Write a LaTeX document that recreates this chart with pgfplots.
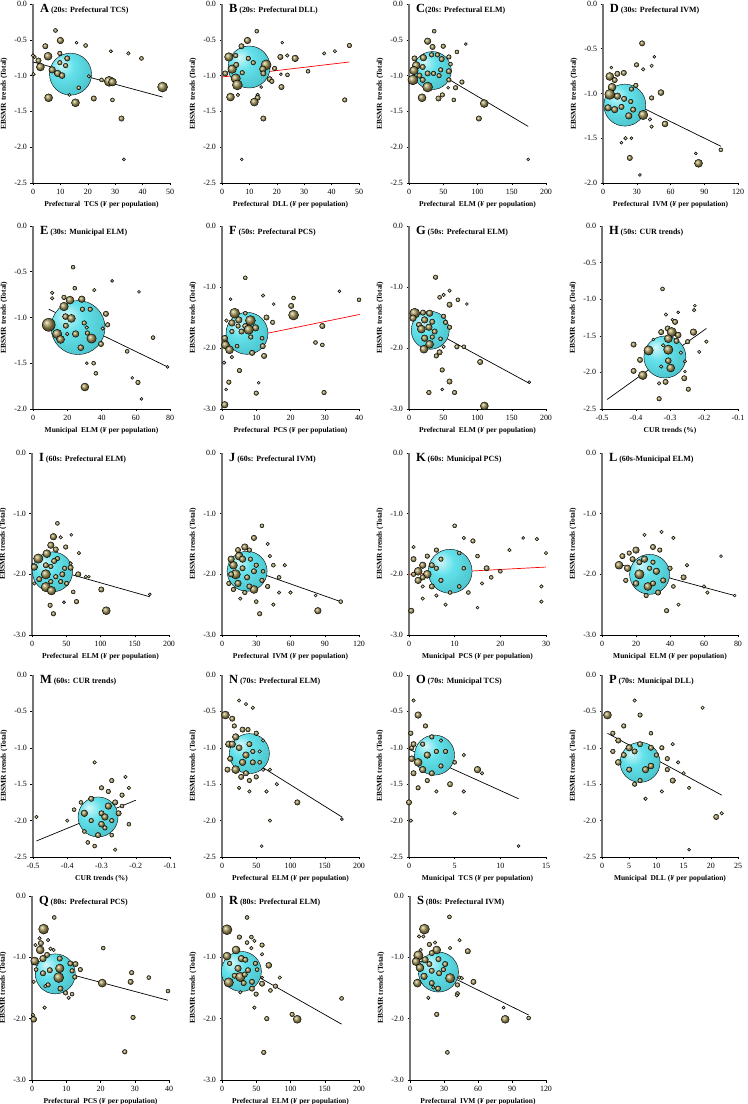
\documentclass[border=0pt]{standalone}
\usepackage{pgfplots}
\pgfplotsset{compat=1.18}
\usepackage{fontspec}
\setmainfont{Liberation Serif}
\definecolor{olv}{RGB}{160,146,82}
\definecolor{cyn}{RGB}{85,222,232}
\pgfdeclareradialshading{cyball}{\pgfpoint{-12bp}{12bp}}{color(0bp)=(cyn!25!white); color(14bp)=(cyn!92!white); color(34bp)=(cyn!88!black); color(55bp)=(cyn!62!black); color(70bp)=(cyn!55!black)}
\pgfdeclareplotmark{nothing}{}
\pgfplotsset{
  pan/.style={scale only axis, width=137bp, anchor=south west, clip=false,
    axis lines*=left,
    x axis line style={line width=0.6pt, black},
    y axis line style={line width=1.2pt, black!55},
    tick align=outside, major tick length=2.5bp, tick style={line width=0.5pt, black},
    ticklabel style={font=\fontsize{8}{9}\selectfont},
    yticklabel style={/pgf/number format/.cd, fixed, fixed zerofill, precision=1},
    label style={font=\bfseries\fontsize{7.5}{9}\selectfont},
    ylabel={EBSMR trends (Total)},
    /pgf/number format/assume math mode=true,
  },
  olb/.style={only marks, scatter, mark=nothing,
    visualization depends on={\thisrow{r} \as \rr},
    scatter/@pre marker code/.code={\shade[ball color=olv] (0pt,0pt) circle[radius=\rr bp];},
    scatter/@post marker code/.code={}},
  cyb/.style={olb, scatter/@pre marker code/.code={\shade[shading=cyball] (0pt,0pt) circle[radius=\rr bp];}},
  rl/.style={black, line width=0.7pt, no marks},
  rr/.style={red, line width=0.7pt, no marks},
}
\newcommand{\ttl}[2]{\node[anchor=north west, inner sep=0pt, font=\bfseries] at (rel axis cs:0.05,1.0) {\fontsize{12.5}{12}\selectfont #1\fontsize{8}{9}\selectfont #2};}
\begin{document}
\begin{tikzpicture}
\useasboundingbox (0,0) rectangle (748bp,1104bp);
% ---------------- A
\begin{axis}[pan, at={(33bp,921bp)}, height=179bp, xmin=0, xmax=50, xtick={0,10,...,50}, ymin=-2.5, ymax=0, ytick={-2.5,-2,...,0},
 xlabel={Prefectural\ \ TCS (\textit{¥} per population)}]
\addplot[cyb] table[row sep=\\] {x y r\\ 13.7 -0.98 21\\};
\addplot[olb] table[row sep=\\] {x y r\\
8.2 -0.37 2\\ 10 -0.51 3.3\\ 15.9 -0.54 1.5\\ 19.2 -0.58 2\\ 4.5 -0.59 2.7\\ 28.4 -0.66 1.7\\ 34.8 -0.69 1.8\\ 39.6 -0.76 2\\
5.5 -0.73 4\\ 9.8 -0.69 2.3\\ 12.5 -0.76 2.7\\ 0.6 -0.74 1.8\\ 2 -0.79 2.7\\ 9.8 -0.82 2.3\\ 2.7 -0.88 4\\ 7 -0.92 3.3\\
9 -0.97 3.3\\ 10.6 -1.0 3\\ 11.9 -0.86 2.3\\ 0.2 -0.98 1.8\\ 0 -0.72 1.8\\ 20.4 -1.01 1.8\\ 16.7 -1.17 2\\ 25 -1.06 2\\
27.8 -1.08 5\\ 29 -1.09 4\\ 47.3 -1.16 5\\ 5.7 -1.31 4\\ 13.3 -1.27 1.6\\ 15.5 -1.38 4\\ 22.2 -1.32 2.7\\ 29 -1.34 2\\
32.3 -1.6 2.7\\ 33.2 -2.17 1.6\\};
\addplot[rl] coordinates {(0,-0.81) (47.3,-1.30)};
\ttl{A}{ (20s: Prefectural TCS)}
\end{axis}
% ---------------- B
\begin{axis}[pan, at={(222bp,921bp)}, height=179bp, xmin=0, xmax=50, xtick={0,10,...,50}, ymin=-2.5, ymax=0, ytick={-2.5,-2,...,0},
 xlabel={Prefectural\ \ DLL (\textit{¥} per population)}]
\addplot[cyb] table[row sep=\\] {x y r\\ 9.9 -0.88 21\\};
\addplot[olb] table[row sep=\\] {x y r\\
12.7 -0.38 2\\ 9.3 -0.51 3.3\\ 22 -0.54 1.5\\ 46.5 -0.58 2.3\\ 7.1 -0.59 2.7\\ 41.2 -0.66 1.8\\ 37.3 -0.69 1.8\\ 23.8 -0.72 1.8\\
21.3 -0.74 2.7\\ 26.7 -0.76 3.3\\ 2.5 -0.74 4.3\\ 5 -0.72 2.3\\ 9.6 -0.76 2.3\\ 11.4 -0.82 2.3\\ 3.7 -0.91 4.3\\ 5.2 -0.85 2.7\\
16.1 -0.85 5\\ 14.9 -0.91 3.3\\ 19.2 -0.9 2.3\\ 1.2 -0.97 2.7\\ 7.4 -0.96 2.3\\ 15.1 -0.97 2.7\\ 21.5 -0.98 1.5\\ 23.9 -0.99 2\\
31.4 -0.94 2\\ 5 -1.04 4.7\\ 5.6 -1.13 5\\ 17.4 -1.05 2.7\\ 18.2 -1.08 2.3\\ 14.3 -1.16 1.5\\ 21.7 -1.16 2.7\\ 3.1 -1.3 4\\
5.8 -1.27 1.8\\ 13 -1.27 1.8\\ 13 -1.31 2.7\\ 11.8 -1.37 4\\ 44.8 -1.34 2.3\\ 15.1 -1.6 2.7\\ 7.2 -2.17 1.5\\};
\addplot[rr] coordinates {(0,-1.02) (46.5,-0.81)};
\ttl{B}{ (20s: Prefectural DLL)}
\end{axis}
% ---------------- C
\begin{axis}[pan, at={(409bp,921bp)}, height=179bp, xmin=0, xmax=200, xtick={0,50,...,200}, ymin=-2.5, ymax=0, ytick={-2.5,-2,...,0},
 xlabel={Prefectural\ \ ELM (\textit{¥} per population)}]
\addplot[cyb] table[row sep=\\] {x y r\\ 34 -0.93 19\\};
\addplot[olb] table[row sep=\\] {x y r\\
36.8 -0.38 2\\ 27.2 -0.52 3.3\\ 83 -0.56 1.5\\ 50 -0.59 2.3\\ 34.4 -0.6 2.7\\ 70 -0.67 2\\ 41.5 -0.71 2.3\\ 33 -0.71 2.3\\
21 -0.75 3.3\\ 47.7 -0.77 2.7\\ 58.2 -0.74 2.3\\ 8.1 -0.76 2.7\\ 60.6 -0.84 2\\ 10.5 -0.86 4\\ 7.2 -0.93 4.3\\ 20 -0.88 2.7\\
46.3 -0.92 2.3\\ 58.2 -0.94 2.7\\ 27.2 -0.97 2.7\\ 35.8 -0.97 2.3\\ 43.9 -1.0 2.3\\ 15.3 -1.0 2.7\\ 5.7 -1.06 5\\ 20 -1.06 2.7\\
58.2 -1.06 2.3\\ 77.3 -1.09 2.3\\ 27.2 -1.16 5\\ 57 -1.17 1.5\\ 68 -1.17 2.3\\ 19 -1.31 4\\ 48.7 -1.27 2.3\\ 43 -1.32 2.7\\
65.4 -1.34 2\\ 109.8 -1.39 4\\ 102 -1.6 2.7\\ 174 -2.17 1.5\\};
\addplot[rl] coordinates {(4.8,-0.75) (174,-1.71)};
\ttl{C}{(20s: Prefectural ELM)}
\end{axis}
% ---------------- D
\begin{axis}[pan, at={(603bp,921bp)}, width=135bp, height=179bp, xmin=0, xmax=120, xtick={0,30,...,120}, ymin=-2, ymax=0, ytick={-2,-1.5,...,0},
 xlabel={Prefectural\ \ IVM (\textit{¥} per population)}]
\addplot[cyb] table[row sep=\\] {x y r\\ 19.4 -1.13 21\\};
\addplot[olb] table[row sep=\\] {x y r\\
34.8 -0.44 2.7\\ 45.6 -0.59 1.5\\ 7.4 -0.71 1.5\\ 29.8 -0.68 2.3\\ 35.7 -0.73 1.8\\ 43.2 -0.69 1.8\\ 6 -0.81 4\\ 12.8 -0.78 2.7\\
18.5 -0.77 2.7\\ 10.4 -0.85 2.7\\ 8 -0.93 4\\ 25.3 -0.95 2.3\\ 29.2 -0.91 2.3\\ 51.5 -0.99 3\\ 6 -1.01 5\\ 12.8 -1.03 3.3\\
18.8 -1.06 2.7\\ 43.2 -1.05 2.3\\ 24.7 -1.09 2.3\\ 4.5 -1.16 3.3\\ 10.4 -1.18 3.3\\ 16.4 -1.15 2.7\\ 26.8 -1.18 2.7\\ 35.7 -1.24 4.7\\
22.9 -1.25 3.3\\ 41.7 -1.29 1.8\\ 43.2 -1.37 1.8\\ 55.1 -1.34 3\\ 20 -1.5 1.8\\ 25.3 -1.5 1.5\\ 16.4 -1.55 1.5\\ 23.8 -1.72 2.7\\
32.8 -1.91 1.5\\ 82.5 -1.67 1.5\\ 84.9 -1.78 4\\ 104.8 -1.63 2\\};
\addplot[rl] coordinates {(6,-0.98) (104.8,-1.59)};
\ttl{D}{ (30s: Prefectural IVM)}
\end{axis}
% ---------------- E
\begin{axis}[pan, at={(33bp,695bp)}, height=183bp, xmin=0, xmax=80, xtick={0,20,...,80}, ymin=-2, ymax=0, ytick={-2,-1.5,...,0},
 xlabel={Municipal\ \ ELM (\textit{¥} per population)}]
\addplot[cyb] table[row sep=\\] {x y r\\ 26.3 -1.11 27\\};
\addplot[olb] table[row sep=\\] {x y r\\
23.4 -0.45 2\\ 46.2 -0.6 1.5\\ 24.4 -0.68 2\\ 35.8 -0.7 1.8\\ 61.9 -0.72 1.5\\ 11.2 -0.73 1.8\\ 11.2 -0.79 1.8\\ 18.1 -0.78 2.3\\
21.6 -0.81 4\\ 28.5 -0.8 3.3\\ 33.4 -0.91 2.3\\ 18.1 -0.88 4.3\\ 28.9 -0.91 2.3\\ 42.6 -0.96 2.7\\ 19 -0.99 3\\ 9.2 -1.08 6.5\\
22.4 -1.01 4\\ 29.9 -1.06 2.3\\ 43.6 -1.08 2.3\\ 40.7 -1.12 1.8\\ 31.4 -1.11 1.8\\ 19.2 -1.09 2.7\\ 14.1 -1.18 4.7\\ 24.9 -1.18 3.3\\
20 -1.18 1.8\\ 31.8 -1.17 2.3\\ 34.2 -1.23 4.7\\ 16.1 -1.24 4\\ 70.1 -1.22 2\\ 27.9 -1.33 3\\ 39.7 -1.29 2.7\\ 55 -1.37 2\\
31.4 -1.5 1.5\\ 35.4 -1.5 2\\ 36.7 -1.61 2\\ 78.6 -1.54 1.5\\ 58 -1.66 1.5\\ 61.3 -1.71 2.3\\ 30.3 -1.76 4\\ 63.3 -1.89 1.5\\};
\addplot[rl] coordinates {(9.2,-0.91) (78.6,-1.54)};
\ttl{E}{ (30s: Municipal ELM)}
\end{axis}
% ---------------- F
\begin{axis}[pan, at={(222bp,695bp)}, height=183bp, xmin=0, xmax=40, xtick={0,10,...,40}, ymin=-3, ymax=0, ytick={-3,-2,-1,0},
 xlabel={Prefectural\ \ PCS (\textit{¥} per population)}]
\addplot[cyb] table[row sep=\\] {x y r\\ 7.3 -1.76 21\\};
\addplot[olb] table[row sep=\\] {x y r\\
6.8 -0.85 2\\ 40 -1.21 2\\ 34.3 -1.07 1.5\\ 12 -1.14 1.8\\ 2.5 -1.2 1.5\\ 20.9 -1.18 2\\ 15.1 -1.28 1.5\\ 20.2 -1.31 2.7\\
6.8 -1.43 2\\ 3.7 -1.43 5\\ 20.9 -1.46 5\\ 13 -1.5 2.7\\ 4.9 -1.54 3.3\\ 1.3 -1.55 1.8\\ 2.9 -1.59 3.3\\ 14.8 -1.58 2.3\\
8.3 -1.55 5\\ 4.7 -1.64 2.3\\ 6.8 -1.64 2.7\\ 9.8 -1.67 3.3\\ 7.8 -1.7 4.7\\ 5.7 -1.73 2.7\\ 2.9 -1.73 2.3\\ 29.3 -1.64 2.7\\
8.4 -1.82 2.3\\ 0.8 -1.84 3\\ 11.7 -1.84 2\\ 1 -1.95 4\\ 2.2 -2.03 4\\ 4.4 -1.97 2\\ 11.9 -1.97 2.7\\ 8.8 -2.08 2.7\\
27.3 -1.91 2\\ 29.3 -1.95 2\\ 2.9 -2.15 1.8\\ 12.3 -2.13 2.7\\ 0.6 -2.24 1.8\\ 5.1 -2.37 2.3\\ 2 -2.56 2.3\\ 10.7 -2.57 1.5\\
1.2 -2.68 1.5\\ 10 -2.74 2.3\\ 29.8 -2.73 2.3\\ 0.8 -2.93 3.3\\};
\addplot[rr] coordinates {(0,-1.91) (40.2,-1.45)};
\ttl{F}{ (50s: Prefectural PCS)}
\end{axis}
% ---------------- G
\begin{axis}[pan, at={(409bp,695bp)}, height=183bp, xmin=0, xmax=200, xtick={0,50,...,200}, ymin=-3, ymax=0, ytick={-3,-2,-1,0},
 xlabel={Prefectural\ \ ELM (\textit{¥} per population)}]
\addplot[cyb] table[row sep=\\] {x y r\\ 31 -1.71 19\\};
\addplot[olb] table[row sep=\\] {x y r\\
38.8 -0.84 2.3\\ 59.2 -1.06 1.8\\ 50.5 -1.13 1.8\\ 44.7 -1.17 2\\ 71.4 -1.21 2\\ 84.5 -1.28 1.5\\ 59.2 -1.29 2.7\\ 8.3 -1.43 5\\
30.1 -1.43 3.3\\ 20.4 -1.42 2.7\\ 50.5 -1.48 2.3\\ 5.8 -1.51 3.3\\ 22.8 -1.54 3.3\\ 34 -1.57 2.7\\ 53.4 -1.58 2.3\\ 14.6 -1.62 2.7\\
59.2 -1.66 2.3\\ 29.1 -1.66 3.3\\ 18 -1.69 4\\ 37.4 -1.73 2.7\\ 22.8 -1.84 3.3\\ 34 -1.82 2.3\\ 46.1 -1.85 2\\ 30.1 -1.94 4\\
50.5 -1.98 1.8\\ 69.9 -1.98 2.3\\ 80.1 -1.98 2\\ 21.8 -2.02 4\\ 44.7 -2.07 2.7\\ 39.8 -2.13 2.3\\ 103.9 -2.23 2.7\\ 48.5 -2.36 2.3\\
59.2 -2.55 2.7\\ 29.1 -2.73 2.3\\ 48.5 -2.68 1.5\\ 66.5 -2.73 2.3\\ 110 -2.95 4\\ 175.7 -2.56 1.5\\};
\addplot[rl] coordinates {(6.8,-1.55) (175.7,-2.58)};
\ttl{G}{ (50s: Prefectural ELM)}
\end{axis}
% ---------------- H
\begin{axis}[pan, at={(602bp,695bp)}, width=136bp, height=183bp, xmin=-0.5, xmax=-0.1, xtick={-0.5,-0.4,-0.3,-0.2,-0.1}, ymin=-2.5, ymax=0, ytick={-2.5,-2,...,0},
 xticklabel style={/pgf/number format/.cd, fixed, fixed zerofill, precision=1},
 xlabel={CUR trends (\%)}]
\addplot[cyb] table[row sep=\\] {x y r\\ -0.315 -1.79 21\\};
\addplot[olb] table[row sep=\\] {x y r\\
-0.322 -0.86 2\\ -0.227 -1.09 1.5\\ -0.229 -1.15 1.8\\ -0.312 -1.21 1.8\\ -0.276 -1.18 1.5\\ -0.293 -1.28 1.5\\ -0.285 -1.31 2.7\\ -0.307 -1.40 2.7\\
-0.295 -1.45 4.7\\ -0.326 -1.45 2.7\\ -0.276 -1.49 3\\ -0.231 -1.45 3.3\\ -0.305 -1.54 4\\ -0.281 -1.57 2.7\\ -0.349 -1.55 1.5\\ -0.248 -1.58 2.3\\
-0.193 -1.58 1.8\\ -0.407 -1.62 2.7\\ -0.320 -1.63 1.8\\ -0.363 -1.70 4.7\\ -0.305 -1.69 4.7\\ -0.214 -1.72 1.8\\ -0.268 -1.73 1.8\\ -0.388 -1.83 2.7\\
-0.305 -1.84 3\\ -0.256 -1.85 1.8\\ -0.326 -1.92 1.8\\ -0.298 -1.94 4\\ -0.407 -1.98 2.7\\ -0.256 -1.99 1.5\\ -0.380 -2.04 4.3\\ -0.313 -2.13 2.7\\
-0.332 -2.15 1.8\\ -0.258 -2.08 2.7\\ -0.246 -2.23 2.3\\ -0.332 -2.36 2.3\\};
\addplot[rl] coordinates {(-0.485,-2.37) (-0.193,-1.40)};
\ttl{H}{ (50s: CUR trends)}
\end{axis}
% ---------------- I
\begin{axis}[pan, at={(32bp,469bp)}, height=182bp, xmin=0, xmax=200, xtick={0,50,...,200}, ymin=-3, ymax=0, ytick={-3,-2,-1,0},
 xlabel={Prefectural\ \ ELM (\textit{¥} per population)}]
\addplot[cyb] table[row sep=\\] {x y r\\ 29.9 -1.96 20\\};
\addplot[olb] table[row sep=\\] {x y r\\
37.1 -1.16 2\\ 31.3 -1.38 3.3\\ 41.9 -1.39 1.8\\ 57.3 -1.35 1.5\\ 49.2 -1.55 2.3\\ 27.5 -1.52 3.3\\ 34.7 -1.59 2.7\\ 21.7 -1.66 4\\
68.4 -1.65 1.8\\ 56.4 -1.82 1.8\\ 9.2 -1.74 4.7\\ 37.1 -1.74 2.3\\ 32.3 -1.78 2.7\\ 20.2 -1.85 2.7\\ 3.4 -1.88 3.3\\ 27.5 -1.87 2.3\\
47.7 -1.9 2.3\\ 56.4 -1.89 2.7\\ 20.2 -2.0 4.7\\ 44.3 -2.0 2.7\\ 67.5 -2.0 2.7\\ 78.6 -2.04 1.8\\ 83 -2.04 1.5\\ 34.7 -2.04 2.3\\
10.6 -2.08 2.7\\ 41.9 -2.12 2.3\\ 27.5 -2.12 2.3\\ 3.4 -2.15 1.8\\ 50.6 -2.15 2.3\\ 20.2 -2.21 4.7\\ 28.4 -2.27 4.3\\ 101.2 -2.25 2.7\\
60.2 -2.29 2\\ 46.7 -2.46 1.5\\ 65 -2.45 2.3\\ 26.5 -2.51 2.3\\ 108.4 -2.6 4\\ 31.3 -2.65 2.3\\ 172 -2.33 1.5\\};
\addplot[rl] coordinates {(0,-1.82) (172,-2.37)};
\ttl{I}{ (60s: Prefectural ELM)}
\end{axis}
% ---------------- J
\begin{axis}[pan, at={(222bp,469bp)}, height=182bp, xmin=0, xmax=120, xtick={0,30,...,120}, ymin=-3, ymax=0, ytick={-3,-2,-1,0},
 xlabel={Prefectural\ \ IVM (\textit{¥} per population)}]
\addplot[cyb] table[row sep=\\] {x y r\\ 22 -1.95 20\\};
\addplot[olb] table[row sep=\\] {x y r\\
35 -1.2 2\\ 28 -1.4 2.7\\ 20 -1.55 3.3\\ 40 -1.5 1.8\\ 15 -1.7 4\\ 25 -1.75 2.3\\ 10 -1.85 4\\ 18 -1.9 2.7\\
30 -1.85 2.3\\ 45 -1.85 2\\ 55 -1.85 1.8\\ 12 -2.0 4.7\\ 22 -2.05 2.7\\ 35 -2.1 2.3\\ 40 -2.2 2.3\\ 28 -2.25 4\\
50 -2.05 2\\ 20 -2.3 2.3\\ 30 -2.45 2\\ 45 -2.5 1.8\\ 33 -2.65 2.3\\ 82 -2.35 1.5\\ 84 -2.6 3.3\\ 104 -2.45 2\\
8 -2.0 2.7\\ 6 -2.15 2.3\\ 60 -2.3 1.8\\
14 -1.6 2.7\\ 24 -1.6 2.3\\ 8 -1.75 3.3\\ 18 -1.75 3.3\\ 28 -1.95 2.7\\ 14 -2.15 3.3\\ 24 -2.2 2.7\\ 36 -1.95 2\\
42 -1.7 1.8\\ 16 -2.4 1.8\\ 10 -2.25 2.3\\ 50 -2.3 1.8\\};
\addplot[rl] coordinates {(6,-1.8) (104,-2.45)};
\ttl{J}{ (60s: Prefectural IVM)}
\end{axis}
% ---------------- K
\begin{axis}[pan, at={(409bp,469bp)}, height=182bp, xmin=0, xmax=30, xtick={0,10,...,30}, ymin=-3, ymax=0, ytick={-3,-2,-1,0},
 xlabel={Municipal\ \ PCS (\textit{¥} per population)}]
\addplot[cyb] table[row sep=\\] {x y r\\ 9 -1.95 22\\};
\addplot[olb] table[row sep=\\] {x y r\\
1 -1.55 1.8\\ 6 -1.6 2.3\\ 10 -1.2 2\\ 12 -1.4 1.8\\ 14 -1.45 2.3\\ 15 -1.7 2\\ 3 -1.85 3.3\\ 2 -1.95 4\\
4 -2.0 4\\ 6 -1.9 2.3\\ 7 -2.1 2.3\\ 5 -2.2 2.7\\ 9 -2.3 2\\ 11 -2.2 2\\ 13 -2.3 2\\ 17 -1.9 2.7\\
20 -1.95 2\\ 18 -2.05 2\\ 25 -1.4 1.5\\ 28 -1.42 1.8\\ 30 -1.65 1.8\\ 29 -2.2 1.8\\ 29 -2.45 1.8\\ 0.5 -2.6 2.7\\
8 -2.5 1.8\\ 15 -2.55 1.5\\ 3 -2.2 1.8\\ 22 -1.6 1.8\\
1 -1.75 2.7\\ 2 -2.1 3.3\\ 3 -2.05 2.7\\ 5 -1.85 2.7\\ 7 -1.75 2.3\\ 1 -2.0 2.3\\ 4 -1.7 2.3\\ 12 -1.9 2\\
11 -1.65 2\\ 6 -2.35 1.8\\ 3 -2.4 1.8\\ 16 -2.15 1.8\\};
\addplot[rr] coordinates {(0,-2.0) (30,-1.88)};
\ttl{K}{ (60s: Municipal PCS)}
\end{axis}
% ---------------- L
\begin{axis}[pan, at={(602bp,469bp)}, width=136bp, height=182bp, xmin=0, xmax=80, xtick={0,20,...,80}, ymin=-3, ymax=0, ytick={-3,-2,-1,0},
 xlabel={Municipal\ \ ELM (\textit{¥} per population)}]
\addplot[cyb] table[row sep=\\] {x y r\\ 28 -2.0 20\\};
\addplot[olb] table[row sep=\\] {x y r\\
25 -1.35 1.8\\ 30 -1.55 2.7\\ 35 -1.3 1.8\\ 42 -1.4 1.8\\ 20 -1.6 3.3\\ 10 -1.85 4\\ 15 -1.9 3.3\\ 22 -2.0 4.7\\
27 -2.2 4\\ 33 -2.3 2.7\\ 38 -2.6 2.3\\ 45 -2.5 1.8\\ 60 -2.2 1.8\\ 62 -2.3 1.8\\ 70 -1.7 1.5\\ 78 -2.35 1.5\\
48 -2.05 2.7\\ 36 -2.1 2.7\\ 18 -1.75 2.7\\ 30 -1.8 2.3\\ 40 -1.9 2.3\\ 28 -1.9 2.3\\
12 -1.7 2.7\\ 16 -1.65 2.3\\ 25 -1.75 3.3\\ 32 -1.95 3.3\\ 20 -2.15 3\\ 26 -2.35 2.3\\ 30 -2.15 2.7\\ 42 -2.2 2\\
14 -2.1 2.3\\ 34 -1.6 2.3\\ 50 -1.85 1.8\\ 22 -1.8 2.7\\};
\addplot[rl] coordinates {(8,-1.82) (78,-2.35)};
\ttl{L}{ (60s-Municipal ELM)}
\end{axis}
% ---------------- M
\begin{axis}[pan, at={(33bp,247bp)}, height=182bp, xmin=-0.5, xmax=-0.1, xtick={-0.5,-0.4,-0.3,-0.2,-0.1}, ymin=-2.5, ymax=0, ytick={-2.5,-2,...,0},
 xticklabel style={/pgf/number format/.cd, fixed, fixed zerofill, precision=1},
 xlabel={CUR trends (\%)}]
\addplot[cyb] table[row sep=\\] {x y r\\ -0.31 -1.95 20\\};
\addplot[olb] table[row sep=\\] {x y r\\
-0.32 -1.2 1.8\\ -0.27 -1.45 2.3\\ -0.23 -1.4 1.8\\ -0.22 -1.55 1.8\\ -0.24 -1.65 2.3\\ -0.26 -1.75 2.7\\ -0.28 -1.8 3.3\\ -0.3 -1.9 2.7\\
-0.25 -1.9 2.7\\ -0.33 -2.0 2.3\\ -0.29 -2.1 2.3\\ -0.35 -2.15 2\\ -0.4 -2.0 1.8\\ -0.27 -2.2 2\\ -0.32 -2.35 2\\ -0.26 -2.4 1.8\\
-0.49 -1.95 1.8\\ -0.38 -1.85 2\\ -0.22 -2.05 2\\
-0.3 -1.55 2.3\\ -0.33 -1.7 2.7\\ -0.35 -1.9 3.3\\ -0.28 -1.6 2.3\\ -0.31 -2.2 2.7\\ -0.34 -2.3 2\\ -0.29 -1.95 3.3\\ -0.27 -2.0 2.3\\
-0.24 -1.8 2\\ -0.36 -1.75 2\\ -0.3 -2.05 3\\};
\addplot[rl] coordinates {(-0.49,-2.28) (-0.2,-1.72)};
\ttl{M}{ (60s: CUR trends)}
\end{axis}
% ---------------- N
\begin{axis}[pan, at={(222bp,247bp)}, height=182bp, xmin=0, xmax=200, xtick={0,50,...,200}, ymin=-2.5, ymax=0, ytick={-2.5,-2,...,0},
 xlabel={Prefectural\ \ ELM (\textit{¥} per population)}]
\addplot[cyb] table[row sep=\\] {x y r\\ 40 -1.08 20\\};
\addplot[olb] table[row sep=\\] {x y r\\
5 -0.55 4\\ 25 -0.35 1.8\\ 35 -0.4 1.8\\ 15 -0.6 2.7\\ 45 -0.45 1.8\\ 50 -0.8 2.3\\ 30 -0.75 2.7\\ 20 -0.85 3.3\\
10 -0.95 3.3\\ 40 -0.95 2.7\\ 60 -0.9 1.8\\ 55 -1.05 1.8\\ 30 -1.2 3.3\\ 45 -1.2 2.7\\ 20 -1.3 4\\ 35 -1.35 2.7\\
50 -1.4 2.3\\ 60 -1.3 1.8\\ 65 -1.6 1.8\\ 110 -1.75 2.7\\ 80 -1.5 1.8\\ 40 -1.6 1.8\\ 175 -1.98 1.5\\ 58 -2.35 1.5\\
70 -2.0 1.8\\ 25 -1.55 1.8\\
15 -0.95 3.3\\ 25 -1.0 3\\ 35 -1.1 3.3\\ 12 -1.15 2.7\\ 28 -1.4 2.7\\ 45 -1.05 2.3\\ 18 -0.7 2.3\\ 38 -0.75 2.3\\
55 -1.2 2\\ 40 -1.45 2.3\\ 8 -1.3 2.7\\ 70 -1.3 1.8\\};
\addplot[rl] coordinates {(5,-0.95) (175,-1.95)};
\ttl{N}{ (70s: Prefectural ELM)}
\end{axis}
% ---------------- O
\begin{axis}[pan, at={(409bp,247bp)}, height=182bp, xmin=0, xmax=15, xtick={0,5,10,15}, ymin=-2.5, ymax=0, ytick={-2.5,-2,...,0},
 xlabel={Municipal\ \ TCS (\textit{¥} per population)}]
\addplot[cyb] table[row sep=\\] {x y r\\ 2.8 -1.1 20\\};
\addplot[olb] table[row sep=\\] {x y r\\
0.5 -0.35 1.8\\ 1 -0.55 3.3\\ 0.2 -0.8 2.3\\ 0.3 -1.0 2.3\\ 1.5 -0.95 2.3\\ 2 -1.1 3.3\\ 3 -1.05 2.3\\ 1 -1.2 4\\
0.5 -1.35 2.7\\ 3.5 -1.25 2.3\\ 4.5 -1.5 2.7\\ 3 -1.6 1.8\\ 0 -1.75 2.7\\ 5 -1.9 1.8\\ 7.5 -1.3 3.3\\ 8 -1.35 1.8\\
2 -1.45 2.3\\ 12 -2.35 1.5\\ 6 -1.6 1.8\\ 0.2 -2.0 1.8\\
0.5 -0.95 2.7\\ 1.5 -1.3 3.3\\ 2.5 -0.85 2.3\\ 4 -1.05 2.3\\ 0.3 -1.15 3\\ 2.5 -1.35 2.7\\ 1 -1.55 2.3\\ 3.5 -0.9 1.8\\
5 -1.2 2\\ 1.8 -0.7 2.3\\ 6 -1.1 1.8\\};
\addplot[rl] coordinates {(0,-1.02) (12,-1.7)};
\ttl{O}{ (70s: Municipal TCS)}
\end{axis}
% ---------------- P
\begin{axis}[pan, at={(602bp,247bp)}, width=136bp, height=182bp, xmin=0, xmax=25, xtick={0,5,...,25}, ymin=-2.5, ymax=0, ytick={-2.5,-2,...,0},
 xlabel={Municipal\ \ DLL (\textit{¥} per population)}]
\addplot[cyb] table[row sep=\\] {x y r\\ 7 -1.2 20\\};
\addplot[olb] table[row sep=\\] {x y r\\
1 -0.55 4\\ 6 -0.35 1.8\\ 7 -0.55 2.3\\ 18.5 -0.45 1.8\\ 3 -0.9 2.7\\ 2 -0.8 2.3\\ 5 -1.0 3.3\\ 4 -1.1 2.7\\
6 -1.05 2.7\\ 9 -1.0 2.7\\ 10 -1.1 2.3\\ 8 -1.3 3.3\\ 12 -1.3 2.3\\ 15 -1.35 1.8\\ 14 -1.2 1.8\\ 16 -1.55 1.8\\
21 -1.95 2.7\\ 22 -1.9 1.8\\ 16 -2.4 1.5\\ 8 -1.7 1.8\\ 6 -1.5 2.3\\ 11 -1.6 1.8\\ 13 -1.45 2.7\\
3 -1.2 3\\ 5 -1.3 2.7\\ 7 -0.95 2.7\\ 9 -1.25 3\\ 11 -1.0 2.3\\ 4 -0.7 2.3\\ 7 -1.45 2.3\\ 2 -1.05 2.3\\
12 -1.15 2.3\\ 9 -0.8 2\\ 13 -0.95 1.8\\};
\addplot[rl] coordinates {(1,-0.8) (22,-1.65)};
\ttl{P}{ (70s: Municipal DLL)}
\end{axis}
% ---------------- Q
\begin{axis}[pan, at={(32bp,24bp)}, height=184bp, xmin=0, xmax=40, xtick={0,10,...,40}, ymin=-3, ymax=0, ytick={-3,-2,-1,0},
 xlabel={Prefectural\ \ PCS (\textit{¥} per population)}]
\addplot[cyb] table[row sep=\\] {x y r\\ 6.8 -1.27 20\\};
\addplot[olb] table[row sep=\\] {x y r\\
6.5 -0.35 2\\ 3.4 -0.54 5\\ 2.2 -0.69 1.8\\ 4.7 -0.72 1.8\\ 2.6 -0.77 2.7\\ 1 -0.8 1.8\\ 5.4 -0.86 1.8\\ 2.4 -0.88 4\\
6.3 -0.88 1.8\\ 20.8 -0.85 2\\ 4.4 -0.96 2.7\\ 3.2 -1.02 3.3\\ 8.1 -1.02 2.7\\ 0.8 -1.06 4\\ 1.2 -1.2 2\\ 11.2 -1.1 2.7\\
12.7 -1.11 2.7\\ 14.1 -1.2 2.3\\ 8.1 -1.18 4.3\\ 5.2 -1.21 2.7\\ 3.2 -1.26 2.7\\ 11.7 -1.22 2.3\\ 29.1 -1.25 2.3\\ 7.8 -1.33 5\\
12.5 -1.32 2.3\\ 34.1 -1.33 2\\ 20.5 -1.42 4\\ 28.8 -1.4 2.7\\ 0.5 -1.4 1.8\\ 4.7 -1.45 2.3\\ 3.9 -1.47 1.8\\ 8.3 -1.51 2.7\\
9.8 -1.58 2.3\\ 11.7 -1.6 2\\ 10.7 -1.66 1.8\\ 39.7 -1.55 2\\ 3.7 -1.82 1.8\\ 0.3 -1.94 1.8\\ 0.5 -2.01 3\\ 29.5 -1.98 2.3\\
27.1 -2.54 2.3\\};
\addplot[rl] coordinates {(0,-1.11) (39.7,-1.70)};
\ttl{Q}{ (80s: Prefectural PCS)}
\end{axis}
% ---------------- R
\begin{axis}[pan, at={(222bp,24bp)}, height=184bp, xmin=0, xmax=200, xtick={0,50,...,200}, ymin=-3, ymax=0, ytick={-3,-2,-1,0},
 xlabel={Prefectural\ \ ELM (\textit{¥} per population)}]
\addplot[cyb] table[row sep=\\] {x y r\\ 28.3 -1.23 20\\};
\addplot[olb] table[row sep=\\] {x y r\\
7.3 -0.55 5\\ 36.6 -0.35 2\\ 25.4 -0.67 2.3\\ 42.9 -0.67 2\\ 47.3 -0.73 1.8\\ 36.6 -0.76 2\\ 58.5 -0.8 2.3\\ 42.9 -0.85 1.8\\
20.5 -0.88 4\\ 58.5 -0.95 1.8\\ 7.3 -0.98 4\\ 28.3 -1.02 3.3\\ 34.1 -1.04 2.7\\ 11.2 -1.1 2.3\\ 48.8 -1.1 2.3\\ 68.3 -1.13 3\\
23.4 -1.18 3.3\\ 38 -1.21 2.7\\ 51.2 -1.2 2\\ 18.5 -1.3 2.7\\ 26.8 -1.32 4.7\\ 33.2 -1.28 2.7\\ 58.5 -1.33 1.5\\ 84.4 -1.33 1.8\\
43.9 -1.4 2.7\\ 9.8 -1.41 4.7\\ 31.7 -1.42 2.7\\ 58.5 -1.43 2.7\\ 78 -1.47 2.3\\ 43.9 -1.51 2.7\\ 70.7 -1.54 2\\ 26.8 -1.57 1.8\\
49.8 -1.6 2.3\\ 174.6 -1.67 2\\ 47.3 -1.82 1.8\\ 65.4 -2.0 2.3\\ 102.4 -1.93 2.3\\ 109.8 -2.01 4\\ 61 -2.55 2.3\\};
\addplot[rl] coordinates {(5.9,-1.02) (174.6,-2.09)};
\ttl{R}{ (80s: Prefectural ELM)}
\end{axis}
% ---------------- S
\begin{axis}[pan, at={(410bp,24bp)}, width=136bp, height=184bp, xmin=0, xmax=120, xtick={0,30,...,120}, ymin=-3, ymax=0, ytick={-3,-2,-1,0},
 xlabel={Prefectural\ \ IVM (\textit{¥} per population)}]
\addplot[cyb] table[row sep=\\] {x y r\\ 25.1 -1.24 20\\};
\addplot[olb] table[row sep=\\] {x y r\\
34.8 -0.34 2\\ 12.7 -0.54 5\\ 11.8 -0.66 1.8\\ 8 -0.66 1.8\\ 43.7 -0.72 1.8\\ 17.1 -0.79 2.3\\ 22.1 -0.76 1.8\\ 35.4 -0.85 1.8\\
9.4 -0.88 1.8\\ 23.6 -0.88 4\\ 51 -0.9 2.7\\ 19.2 -0.93 2.7\\ 7.4 -0.97 4.7\\ 13.3 -1.04 3.3\\ 25.1 -1.03 2.7\\ 5.3 -1.07 4\\
17.1 -1.11 2.7\\ 31 -1.11 2.7\\ 8.8 -1.17 4\\ 19.2 -1.22 2.7\\ 29.5 -1.2 2.3\\ 25.7 -1.26 2.7\\ 12.4 -1.31 3.3\\ 35.4 -1.34 4.7\\
43.7 -1.33 1.8\\ 45.7 -1.34 1.8\\ 56 -1.4 2.7\\ 6.5 -1.42 4\\ 19.2 -1.42 2.7\\ 41.9 -1.45 2.3\\ 24.8 -1.51 2.7\\ 20.6 -1.49 1.8\\
41.9 -1.59 2\\ 41.3 -1.62 1.8\\ 16.2 -1.66 1.8\\ 23.6 -1.93 2.3\\ 82.6 -1.82 1.5\\ 84 -2.01 4\\ 104.7 -1.99 2\\ 33 -2.55 2\\};
\addplot[rl] coordinates {(5.9,-1.04) (104.7,-1.94)};
\ttl{S}{ (80s: Prefectural IVM)}
\end{axis}
\end{tikzpicture}
\end{document}
